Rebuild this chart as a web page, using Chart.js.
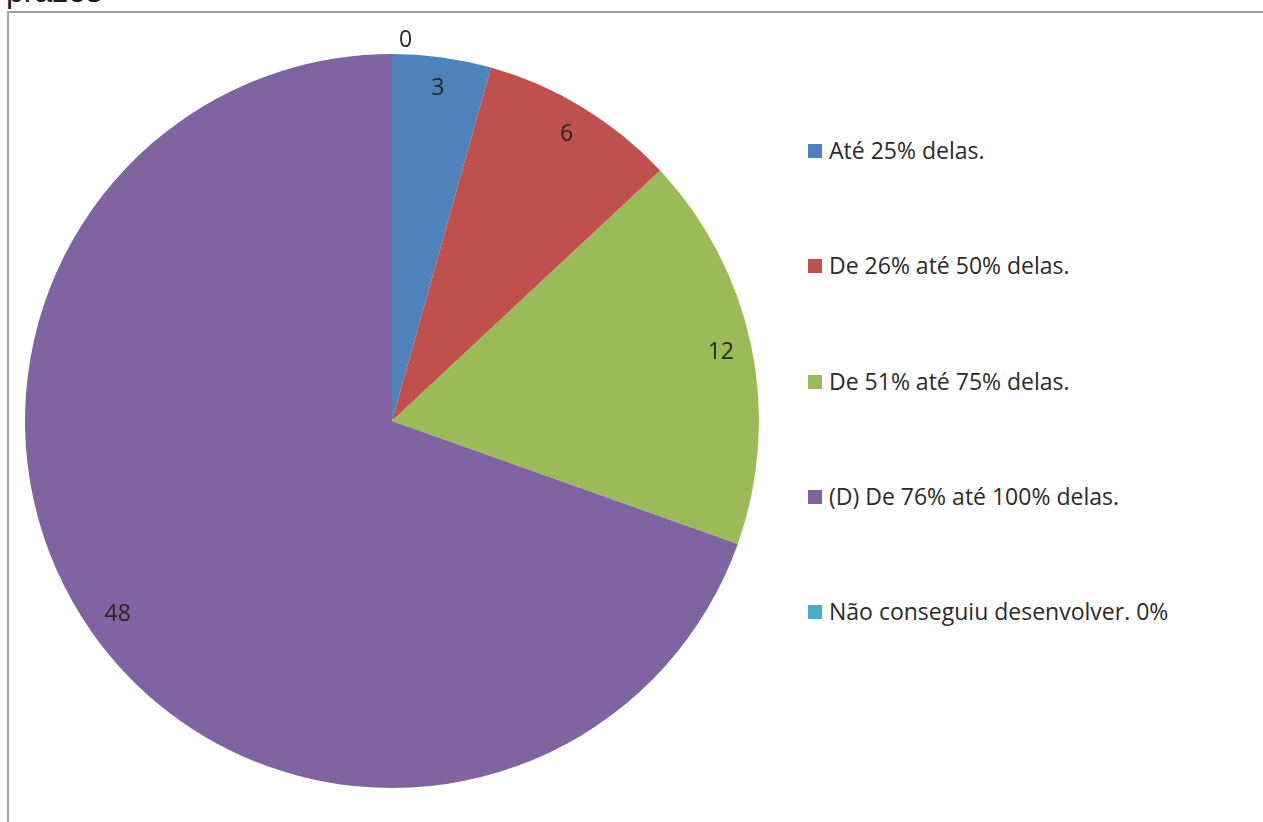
<!DOCTYPE html>
<html>
<head>
<meta charset="utf-8">
<script src="https://cdn.jsdelivr.net/npm/chart.js@4.4.1/dist/chart.umd.min.js"></script>
<style>
  body { margin: 0; background: #fff; width: 1263px; height: 822px; overflow: hidden; position: relative; }
  #title { position: absolute; left: 6px; top: 0; height: 9px; overflow: hidden; width: 200px; }
  #title span { position: absolute; left: 0; top: -25px; font: 32px "Liberation Sans", Arial, sans-serif; color: #1a1a1a; line-height: 32px; }
  #frame { position: absolute; left: 7px; top: 11px; width: 1260px; height: 820px; border-top: 2px solid #a3a3a3; border-left: 2px solid #a3a3a3; }
  #wrap { position: absolute; left: 0; top: 0; width: 784px; height: 822px; }
  .leg { position: absolute; left: 808px; font: 23px "Open Sans", sans-serif; color: #2b2b2b; white-space: nowrap; }
  .leg i { position: absolute; left: 0; top: -7px; width: 14px; height: 14px; }
  .leg span { position: absolute; left: 21px; top: -16px; line-height: 30px; }
</style>
</head>
<body>
<div id="title"><span>prazos</span></div>
<div id="frame"></div>
<div id="wrap"><canvas id="pie"></canvas></div>
<div id="legend"></div>
<script>
const labels = ['Até 25% delas.', 'De 26% até 50% delas.', 'De 51% até 75% delas.', '(D) De 76% até 100% delas.', 'Não conseguiu desenvolver. 0%'];
const values = [3, 6, 12, 48, 0];
const colors = ['#4F81BD', '#C0504D', '#9BBB59', '#8064A2', '#4BACC6'];

// legend drawn as html, same order as the data
const legend = document.getElementById('legend');
labels.forEach((name, i) => {
    const row = document.createElement('div');
    row.className = 'leg';
    row.style.top = (151 + i * 115.25) + 'px';
    row.innerHTML = `<i style="background:${colors[i]}"></i><span>${name}</span>`;
    legend.appendChild(row);
});

const valueLabels = {
    id: 'valueLabels',
    afterDatasetsDraw(chart) {
        const ctx = chart.ctx;
        const meta = chart.getDatasetMeta(0);
        ctx.save();
        ctx.font = '23px "Open Sans", sans-serif';
        ctx.fillStyle = '#262626';
        ctx.textBaseline = 'middle';
        meta.data.forEach((arc, i) => {
            const p = arc.getProps(['x', 'y', 'startAngle', 'endAngle', 'outerRadius'], true);
            const mid = (p.startAngle + p.endAngle) / 2;
            let r = p.outerRadius * 0.915;
            let x, y;
            if (values[i] === 0) {
                r = p.outerRadius + 14;
                ctx.textAlign = 'left';
                x = p.x + Math.cos(mid) * r + 7;
            } else {
                ctx.textAlign = 'center';
                x = p.x + Math.cos(mid) * r;
            }
            y = p.y + Math.sin(mid) * r;
            ctx.fillText(String(values[i]), x, y);
        });
        ctx.restore();
    }
};

new Chart(document.getElementById('pie'), {
    type: 'pie',
    data: {
        labels: labels,
        datasets: [{
            data: values,
            backgroundColor: colors,
            borderWidth: 0
        }]
    },
    options: {
        responsive: true,
        maintainAspectRatio: false,
        animation: false,
        layout: { padding: { left: 25, right: 25, top: 54, bottom: 34 } },
        plugins: {
            legend: { display: false },
            tooltip: { enabled: false }
        }
    },
    plugins: [valueLabels]
});
</script>
</body>
</html>
